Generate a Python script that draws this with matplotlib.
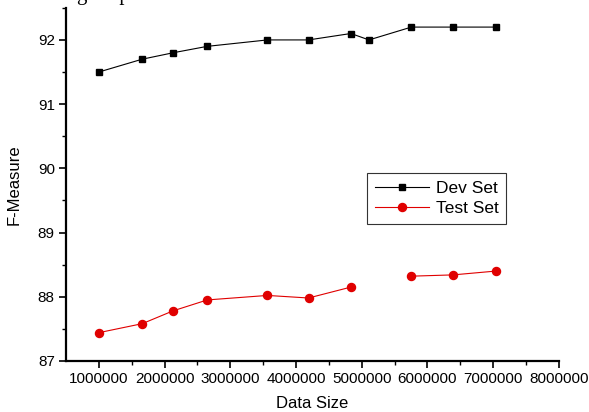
import numpy as np
import matplotlib
matplotlib.use("Agg")
import matplotlib.pyplot as plt

plt.rcParams['font.family'] = ['Liberation Sans', 'DejaVu Sans']

data_size = [1000000, 1660000, 2130000, 2650000, 3565000, 4190000, 4835000, 5110000, 5755000, 6390000, 7045000]
dev_set = [91.5, 91.7, 91.8, 91.9, 92.0, 92.0, 92.1, 92.0, 92.2, 92.2, 92.2]
test_set = [87.44, 87.58, 87.78, 87.95, 88.02, 87.98, 88.15, np.nan, 88.32, 88.34, 88.40]

x_ticks = [1000000, 2000000, 3000000, 4000000, 5000000, 6000000, 7000000, 8000000]
y_ticks = [87, 88, 89, 90, 91, 92]

fig = plt.figure(figsize=(5.89, 4.12), dpi=100)
ax = fig.add_axes([0.112, 0.124, 0.837, 0.857])

ax.plot(data_size, dev_set, color='black', lw=0.8, marker='s', ms=4.5, label='Dev Set')
ax.plot(data_size, test_set, color='#e00000', lw=0.8, marker='o', ms=5.8, label='Test Set')

ax.set_xlim(500000, 8000000)
ax.set_ylim(87, 92.5)
ax.set_xticks(x_ticks)
ax.set_xticklabels([str(t) for t in x_ticks])
ax.set_yticks(y_ticks)
ax.set_xticks(np.arange(1500000, 8000000, 1000000), minor=True)
ax.set_yticks(np.arange(87.5, 92.6, 1.0), minor=True)
ax.tick_params(axis='both', which='major', direction='out', length=5, width=1.2, labelsize=11, pad=3)
ax.tick_params(axis='both', which='minor', direction='out', length=3, width=1.0)

for s in ['top', 'right']:
    ax.spines[s].set_visible(False)
for s in ['left', 'bottom']:
    ax.spines[s].set_linewidth(1.6)

ax.set_xlabel('Data Size', fontsize=12, labelpad=7)
ax.set_ylabel('F-Measure', fontsize=12, labelpad=12)

leg = ax.legend(loc='upper left', bbox_to_anchor=(0.611, 0.533), fontsize=12.5,
                frameon=True, fancybox=False, edgecolor='#333333', framealpha=1,
                handlelength=3.1, borderpad=0.45, labelspacing=0.3, handletextpad=0.4,
                borderaxespad=0)
leg.get_frame().set_linewidth(0.8)

fig.text(0.13, 1.012, 'g output.', fontsize=15, family='Liberation Serif', va='center', ha='left')

fig.savefig('out.png', dpi=100)
